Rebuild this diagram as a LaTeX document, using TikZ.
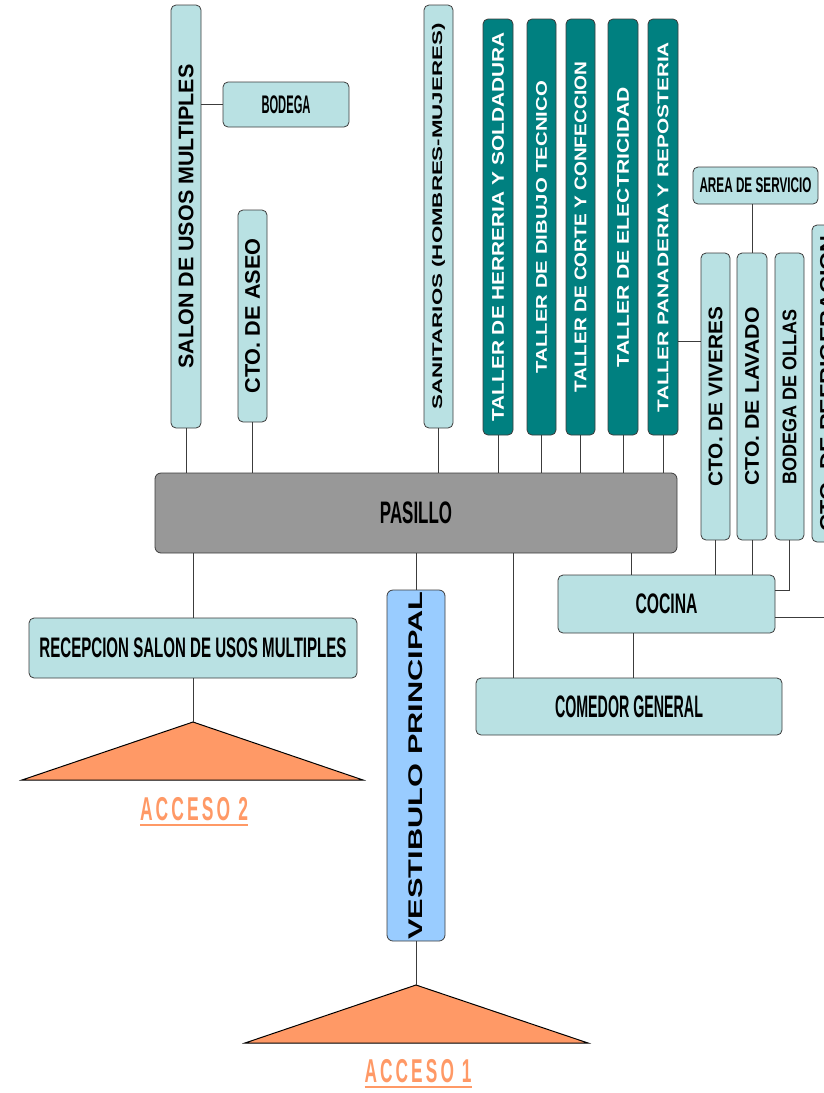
\documentclass[tikz,border=0pt]{standalone}
\usepackage{fontspec}
\setmainfont{Liberation Sans}
\usepackage{graphicx}
\usepackage{tikz}

\definecolor{celeste}{RGB}{185,225,227}
\definecolor{verdeazul}{RGB}{0,128,128}
\definecolor{gris}{RGB}{152,152,152}
\definecolor{azulvest}{RGB}{153,204,255}
\definecolor{naranja}{RGB}{255,153,102}
\definecolor{borde}{RGB}{60,60,60}

\newcommand{\hlbl}[3]{\resizebox*{#1pt}{#2pt}{\bfseries #3}}
\newcommand{\vlbl}[3]{\rotatebox{90}{\resizebox*{#1pt}{#2pt}{\bfseries #3}}}

\begin{document}
\begin{tikzpicture}[x=1pt, y=-1pt,
	bluenode/.style={rectangle, rounded corners=5pt, draw=borde, fill=celeste, thick, inner sep=0pt},
	tealnode/.style={rectangle, rounded corners=5pt, draw=borde, fill=verdeazul, text=white, thick, inner sep=0pt},
	graynode/.style={rectangle, rounded corners=6pt, draw=borde, fill=gris, thick, inner sep=0pt},
	vestnode/.style={rectangle, rounded corners=6pt, draw=borde, fill=azulvest, thick, inner sep=0pt},
	link/.style={draw=borde, line width=0.9pt},
	acceso/.style={fill=naranja, draw=black, line width=1pt},
	]
	\useasboundingbox (0,0) rectangle (823,1093);

	%Nodes
	\node[bluenode, minimum width=30pt, minimum height=423pt](salon) at (186,216.5){\vlbl{304}{15}{SALON DE USOS MULTIPLES}};
	\node[bluenode, minimum width=126pt, minimum height=45pt](bodega) at (286,104.5){\hlbl{49}{18}{BODEGA}};
	\node[bluenode, minimum width=29pt, minimum height=212pt](aseo) at (252.5,316){\vlbl{155}{15}{CTO. DE ASEO}};
	\node[bluenode, minimum width=29pt, minimum height=423pt](sanit) at (438.5,216.5){\vlbl{386}{13}{SANITARIOS (HOMBRES-MUJERES)}};

	\node[tealnode, minimum width=30pt, minimum height=416pt](herreria) at (498,227){\vlbl{389}{12}{TALLER DE HERRERIA Y SOLDADURA}};
	\node[tealnode, minimum width=29pt, minimum height=416pt](dibujo) at (541.5,227){\vlbl{292}{11}{TALLER DE DIBUJO TECNICO}};
	\node[tealnode, minimum width=29pt, minimum height=416pt](corte) at (580.5,227){\vlbl{330}{12}{TALLER DE CORTE Y CONFECCION}};
	\node[tealnode, minimum width=30pt, minimum height=416pt](electr) at (623,227){\vlbl{280}{12}{TALLER DE ELECTRICIDAD}};
	\node[tealnode, minimum width=30pt, minimum height=416pt](panad) at (663,227){\vlbl{370}{11}{TALLER PANADERIA Y REPOSTERIA}};

	\node[bluenode, minimum width=125pt, minimum height=37pt](area) at (755.5,185.5){\hlbl{112}{15}{AREA DE SERVICIO}};
	\node[bluenode, minimum width=29pt, minimum height=287pt](viveres) at (715.5,396.5){\vlbl{180}{14}{CTO. DE VIVERES}};
	\node[bluenode, minimum width=30pt, minimum height=287pt](lavado) at (752,396.5){\vlbl{178}{14}{CTO. DE LAVADO}};
	\node[bluenode, minimum width=29pt, minimum height=287pt](ollas) at (789.5,396.5){\vlbl{175}{14}{BODEGA DE OLLAS}};
	\node[bluenode, minimum width=30pt, minimum height=317pt](refrig) at (827,383.5){\vlbl{296}{14}{CTO. DE REFRIGERACION}};

	\node[graynode, minimum width=522pt, minimum height=80pt](pasillo) at (416,513){\hlbl{72}{22}{PASILLO}};

	\node[bluenode, minimum width=217pt, minimum height=58pt](cocina) at (666.5,604){\hlbl{62}{20}{COCINA}};
	\node[bluenode, minimum width=306pt, minimum height=57pt](comedor) at (629,706.5){\hlbl{148}{22}{COMEDOR GENERAL}};
	\node[bluenode, minimum width=328pt, minimum height=60pt](recep) at (193,648){\hlbl{307}{20}{RECEPCION SALON DE USOS MULTIPLES}};
	\node[vestnode, minimum width=58pt, minimum height=351pt](vest) at (416,765.5){\vlbl{348}{14}{VESTIBULO PRINCIPAL}};

	\coordinate (top2) at (193,722);
	\coordinate (top1) at (416,985);
	\filldraw[acceso] (top2) -- (363,780) -- (22,780) -- cycle;
	\filldraw[acceso] (top1) -- (588,1043) -- (245,1043) -- cycle;
	\node[text=naranja, inner sep=0pt](acc2) at (194,812){\hlbl{108}{30}{\underline{\addfontfeature{LetterSpace=18}ACCESO 2}}};
	\node[text=naranja, inner sep=0pt](acc1) at (418,1074){\hlbl{107}{30}{\underline{\addfontfeature{LetterSpace=18}ACCESO 1}}};

	\coordinate (svc) at (690,341);
	\coordinate (cmd) at ([xshift=-116pt]comedor.north);

	%Lines
	\draw[link] (bodega.west -| salon.east) -- (bodega.west);
	\foreach \n in {salon,aseo,sanit,herreria,dibujo,corte,electr,panad}
		\draw[link] (\n.south) -- (\n.south |- pasillo.north);
	\draw[link] (panad.east |- svc) -- (viveres.west |- svc);
	\draw[link] (lavado.north |- area.south) -- (lavado.north);
	\draw[link] (viveres.south) -- (viveres.south |- cocina.north);
	\draw[link] (lavado.south) -- (lavado.south |- cocina.north);
	\draw[link] (ollas.south) |- ([yshift=14pt]cocina.east);
	\draw[link] ([yshift=-13pt]cocina.east) -| (refrig.south);
	\draw[link] ([xshift=-35pt]cocina.north) -- ([xshift=-35pt]cocina.north |- pasillo.south);
	\draw[link] ([xshift=-33pt]cocina.south) -- ([xshift=-33pt]cocina.south |- comedor.north);
	\draw[link] (cmd) -- (cmd |- pasillo.south);
	\draw[link] (recep.north) -- (recep.north |- pasillo.south);
	\draw[link] (recep.south) -- (top2);
	\draw[link] (vest.north) -- (vest.north |- pasillo.south);
	\draw[link] (vest.south) -- (top1);

\end{tikzpicture}
\end{document}
